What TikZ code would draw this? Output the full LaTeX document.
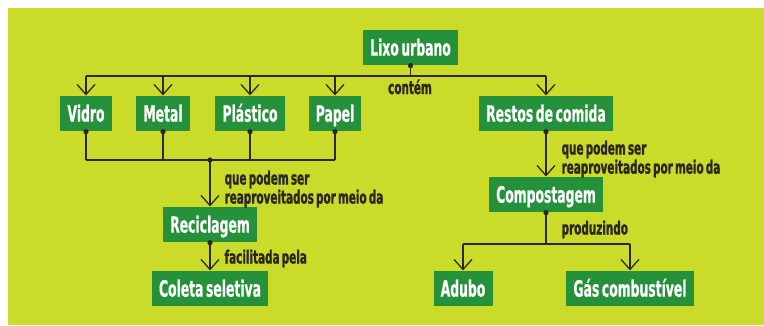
\documentclass[tikz,border=0pt]{standalone}
\usepackage{fontspec}
\newfontfamily\mapafont{DejaVu Sans}[FakeStretch=0.55, WordSpace=0.6, FakeBold=0.6]
\newfontfamily\rotulofont{DejaVu Sans}[FakeStretch=0.57, WordSpace=0.6, FakeBold=1.2]
\usetikzlibrary{arrows.meta,positioning}
\definecolor{fundo}{HTML}{CADB2A}
\definecolor{caixa}{HTML}{25913A}
\definecolor{traco}{HTML}{2A2820}

\begin{document}
\begin{tikzpicture}[x=0.025cm, y=-0.025cm, >={Straight Barb[length=0.25cm,width=0.45cm]},
    line width=0.9pt, draw=traco,
    box/.style={fill=caixa, text=white, minimum height=0.875cm, inner xsep=0.18cm, inner ysep=0pt,
      text height=11.6pt, text depth=0pt, font=\mapafont\bfseries\fontsize{16}{17}\selectfont},
    rotulo/.style={text=traco, inner sep=0pt, align=left, font=\rotulofont\bfseries\fontsize{13}{11.2}\selectfont},
    ponto/.style={circle, fill=traco, inner sep=0pt, minimum size=0.13cm}]
    % Background
    \fill[white] (0,0) rectangle (764,325);
    \fill[fundo] (8,8) rectangle (764,325);

    % Top
    \node[box] (lixo) at (410.5,47.5) {Lixo urbano};

    % Materials
    \node[box] (vidro) at (86,113.5) {Vidro};
    \node[box] (metal) at (163,113.5) {Metal};
    \node[box] (plastico) at (250,113.5) {Plástico};
    \node[box] (papel) at (335,113.5) {Papel};
    \node[box] (restos) at (546,113.5) {Restos de comida};

    % Processes
    \node[box] (reciclagem) at (210,224.5) {Reciclagem};
    \node[box] (coleta) at (210,288.5) {Coleta seletiva};
    \node[box] (compostagem) at (546,194.5) {Compostagem};
    \node[box] (adubo) at (463,288.5) {Adubo};
    \node[box] (gas) at (630,288.5) {Gás combustível};

    % Arrows from Lixo urbano
    \coordinate (barra) at (lixo.south |- 0,76);
    \draw (lixo.south) -- (barra);
    \draw (vidro.north |- barra) -- (restos.north |- barra);
    \foreach \n in {vidro,metal,plastico,papel,restos}
        \draw[->] (\n.north |- barra) -- (\n.north);
    \node[ponto] at (lixo.south) {};
    \node[rotulo, anchor=base] (contem) at (410,94) {contém};

    % Materials to Reciclagem
    \coordinate (juncao) at (reciclagem.north |- 0,160);
    \foreach \n in {vidro,metal,plastico,papel} {
        \draw (\n.south) -- (\n.south |- juncao);
        \node[ponto] at (\n.south) {};
    }
    \draw (vidro.south |- juncao) -- (papel.south |- juncao);
    \draw[->] (juncao) -- (reciclagem.north);
    \node[ponto] at (juncao) {};
    \node[rotulo, anchor=north west] (reaprov1) at (224,170) {que podem ser\\reaproveitados por meio da};

    \draw[->] (reciclagem.south) -- (coleta.north);
    \node[ponto] at (reciclagem.south) {};
    \node[rotulo, anchor=base west] (facilitada) at (224,263.5) {facilitada pela};

    % Restos de comida to Compostagem
    \draw[->] (restos.south) -- (compostagem.north);
    \node[ponto] at (restos.south) {};
    \node[rotulo, anchor=north west] (reaprov2) at (561,140) {que podem ser\\reaproveitados por meio da};

    % Compostagem products
    \coordinate (ramo) at (compostagem.south |- 0,244);
    \draw (compostagem.south) -- (ramo);
    \draw (adubo.north |- ramo) -- (gas.north |- ramo);
    \draw[->] (adubo.north |- ramo) -- (adubo.north);
    \draw[->] (gas.north |- ramo) -- (gas.north);
    \node[ponto] at (compostagem.south) {};
    \node[rotulo, anchor=base west] (produzindo) at (561,234.5) {produzindo};
\end{tikzpicture}
\end{document}
